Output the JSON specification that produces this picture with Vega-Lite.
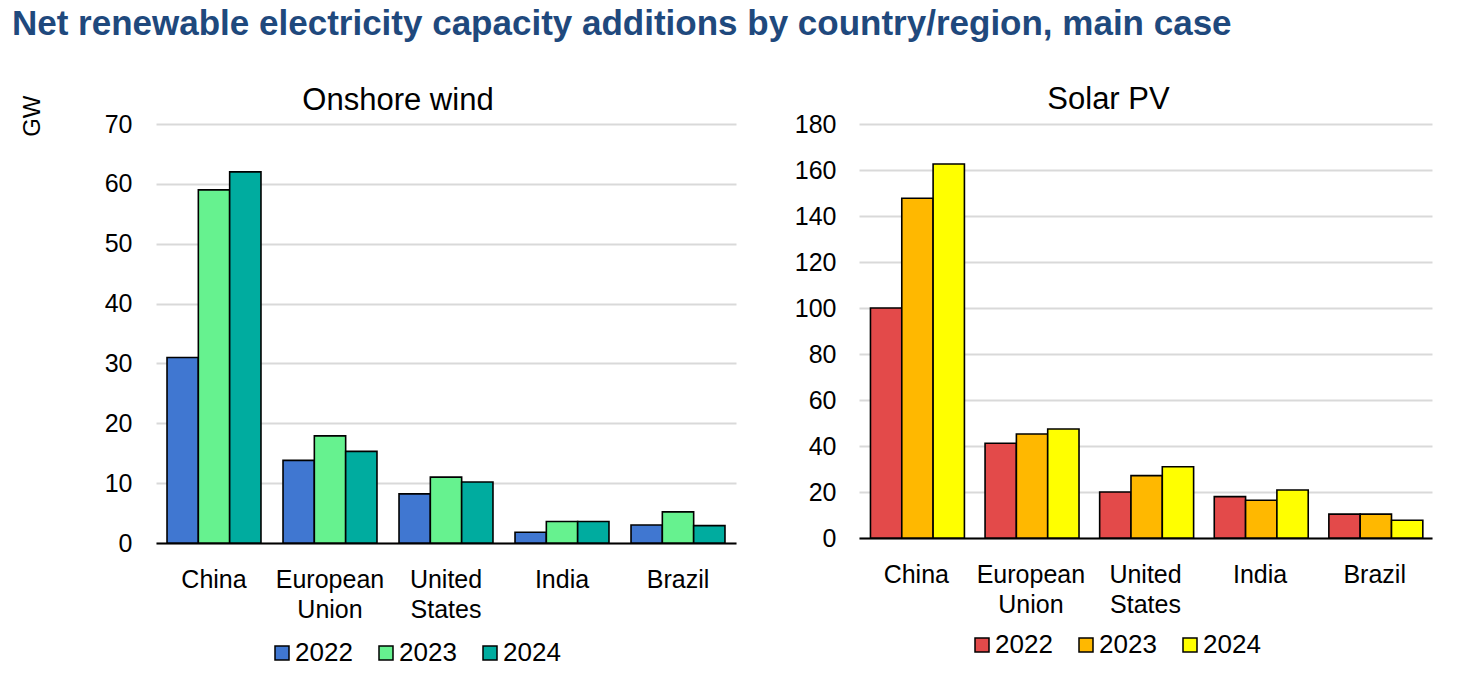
{
  "$schema": "https://vega.github.io/schema/vega-lite/v6.json",
  "autosize": {"type": "pad"},
  "padding": {"left": 12, "top": 7, "right": 5, "bottom": 5},
  "background": "white",
  "config": {
    "font": "Liberation Sans",
    "view": {"stroke": null},
    "axis": {"labelFont": "Liberation Sans", "titleFont": "Liberation Sans", "labelColor": "black", "titleColor": "black"},
    "legend": {"labelFont": "Liberation Sans"},
    "title": {"font": "Liberation Sans"}
  },
  "title": {
    "text": "Net renewable electricity capacity additions by country/region, main case",
    "anchor": "start",
    "fontSize": 35,
    "fontWeight": "bold",
    "color": "#1f497d",
    "dx": -8,
    "offset": 42
  },
  "datasets": {
    "wind": [
      {"country": "China", "year": "2022", "value": 31.0},
      {"country": "China", "year": "2023", "value": 59.0},
      {"country": "China", "year": "2024", "value": 62.0},
      {"country": "European Union", "year": "2022", "value": 13.8},
      {"country": "European Union", "year": "2023", "value": 17.9},
      {"country": "European Union", "year": "2024", "value": 15.3},
      {"country": "United States", "year": "2022", "value": 8.2},
      {"country": "United States", "year": "2023", "value": 11.0},
      {"country": "United States", "year": "2024", "value": 10.2},
      {"country": "India", "year": "2022", "value": 1.8},
      {"country": "India", "year": "2023", "value": 3.6},
      {"country": "India", "year": "2024", "value": 3.6},
      {"country": "Brazil", "year": "2022", "value": 3.0},
      {"country": "Brazil", "year": "2023", "value": 5.2},
      {"country": "Brazil", "year": "2024", "value": 2.9}
    ],
    "solar": [
      {"country": "China", "year": "2022", "value": 100.0},
      {"country": "China", "year": "2023", "value": 147.7},
      {"country": "China", "year": "2024", "value": 162.6},
      {"country": "European Union", "year": "2022", "value": 41.2},
      {"country": "European Union", "year": "2023", "value": 45.2},
      {"country": "European Union", "year": "2024", "value": 47.4},
      {"country": "United States", "year": "2022", "value": 20.0},
      {"country": "United States", "year": "2023", "value": 27.1},
      {"country": "United States", "year": "2024", "value": 31.0},
      {"country": "India", "year": "2022", "value": 18.0},
      {"country": "India", "year": "2023", "value": 16.4},
      {"country": "India", "year": "2024", "value": 20.9},
      {"country": "Brazil", "year": "2022", "value": 10.4},
      {"country": "Brazil", "year": "2023", "value": 10.4},
      {"country": "Brazil", "year": "2024", "value": 7.7}
    ]
  },
  "hconcat": [
    {
      "data": {"name": "wind"},
      "width": 580,
      "height": 419,
      "title": {"text": "Onshore wind", "fontSize": 31, "fontWeight": "normal", "color": "black", "dx": -48, "offset": -46, "baseline": "alphabetic", "frame": "group"},
      "mark": {"type": "bar", "stroke": "black", "strokeWidth": 1.6},
      "encoding": {
        "x": {
          "field": "country", "type": "nominal",
          "sort": ["China", "European Union", "United States", "India", "Brazil"],
          "scale": {"paddingInner": 0.19, "paddingOuter": 0.095},
          "axis": {
            "title": null, "labelAngle": 0, "labelFontSize": 25, "labelPadding": 24,
            "labelLineHeight": 30, "ticks": false, "domainColor": "black", "domainWidth": 2,
            "labelExpr": "datum.label == 'European Union' ? ['European', 'Union'] : datum.label == 'United States' ? ['United', 'States'] : datum.label"
          }
        },
        "xOffset": {"field": "year", "type": "nominal", "scale": {"paddingInner": 0, "paddingOuter": 0}},
        "y": {
          "field": "value", "type": "quantitative",
          "scale": {"domain": [0, 70], "nice": false},
          "axis": {
            "title": "GW", "titleFontSize": 24, "titleFontWeight": "normal", "titleAngle": -90,
            "titleX": -124, "titleY": -29, "titleAlign": "right", "titleBaseline": "middle",
            "values": [0, 10, 20, 30, 40, 50, 60, 70],
            "labelFontSize": 25, "labelPadding": 24, "ticks": false, "domain": false,
            "gridColor": "#d9d9d9", "gridWidth": 2
          }
        },
        "color": {
          "field": "year", "type": "nominal",
          "scale": {"domain": ["2022", "2023", "2024"], "range": ["#4077d1", "#66f28f", "#00ac9f"]},
          "legend": {
            "title": null, "orient": "none", "direction": "horizontal",
            "legendX": 113, "legendY": 516,
            "symbolType": "square", "symbolSize": 196, "symbolStrokeColor": "black", "symbolStrokeWidth": 1.5,
            "labelFontSize": 26, "labelColor": "black", "labelOffset": 0, "columnPadding": 20
          }
        }
      }
    },
    {
      "data": {"name": "solar"},
      "width": 573,
      "height": 414,
      "title": {"text": "Solar PV", "fontSize": 31, "fontWeight": "normal", "color": "black", "dx": -37, "offset": -28, "baseline": "alphabetic", "frame": "group"},
      "mark": {"type": "bar", "stroke": "black", "strokeWidth": 1.6},
      "encoding": {
        "x": {
          "field": "country", "type": "nominal",
          "sort": ["China", "European Union", "United States", "India", "Brazil"],
          "scale": {"paddingInner": 0.2, "paddingOuter": 0.1},
          "axis": {
            "title": null, "labelAngle": 0, "labelFontSize": 25, "labelPadding": 24,
            "labelLineHeight": 30, "ticks": false, "domainColor": "black", "domainWidth": 2,
            "labelExpr": "datum.label == 'European Union' ? ['European', 'Union'] : datum.label == 'United States' ? ['United', 'States'] : datum.label"
          }
        },
        "xOffset": {"field": "year", "type": "nominal", "scale": {"paddingInner": 0, "paddingOuter": 0}},
        "y": {
          "field": "value", "type": "quantitative",
          "scale": {"domain": [0, 180], "nice": false},
          "axis": {
            "title": null,
            "values": [0, 20, 40, 60, 80, 100, 120, 140, 160, 180],
            "labelFontSize": 25, "labelPadding": 23, "ticks": false, "domain": false,
            "gridColor": "#d9d9d9", "gridWidth": 2
          }
        },
        "color": {
          "field": "year", "type": "nominal",
          "scale": {"domain": ["2022", "2023", "2024"], "range": ["#e34a4a", "#ffb800", "#ffff00"]},
          "legend": {
            "title": null, "orient": "none", "direction": "horizontal",
            "legendX": 110, "legendY": 508,
            "symbolType": "square", "symbolSize": 196, "symbolStrokeColor": "black", "symbolStrokeWidth": 1.5,
            "labelFontSize": 26, "labelColor": "black", "labelOffset": 0, "columnPadding": 20
          }
        }
      }
    }
  ],
  "resolve": {"scale": {"color": "independent", "y": "independent", "x": "independent"}},
  "spacing": 58,
  "align": "none",
  "bounds": "full"
}
